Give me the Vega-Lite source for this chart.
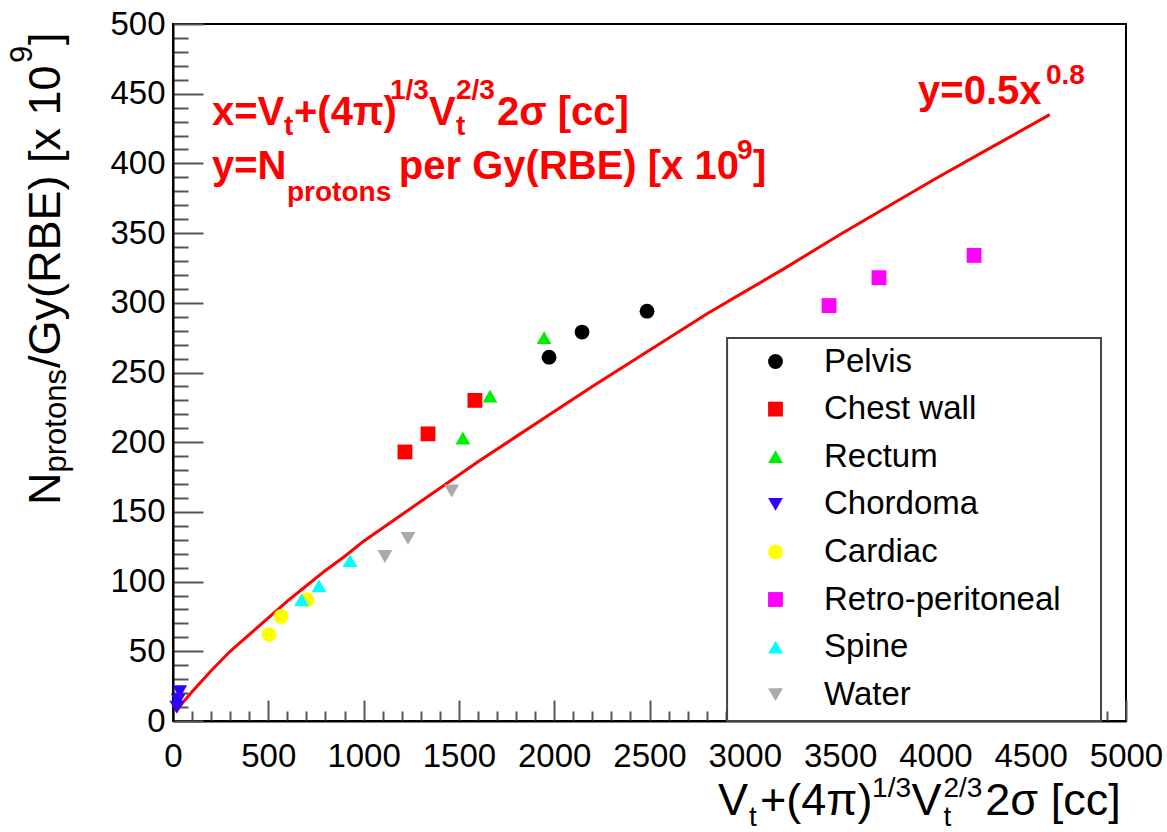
{
  "$schema": "https://vega.github.io/schema/vega-lite/v6.json",
  "width": 953,
  "height": 697,
  "autosize": {"type": "none"},
  "padding": {"left": 173, "top": 24, "right": 41, "bottom": 111},
  "background": "white",
  "config": {"view": {"stroke": "#000", "strokeWidth": 2}, "font": "Liberation Sans"},
  "datasets": {
    "points": [
      {"organ": "Pelvis", "x": 1973, "y": 261},
      {"organ": "Pelvis", "x": 2146, "y": 279},
      {"organ": "Pelvis", "x": 2487, "y": 294},
      {"organ": "Chest wall", "x": 1217, "y": 193},
      {"organ": "Chest wall", "x": 1338, "y": 206},
      {"organ": "Chest wall", "x": 1584, "y": 230},
      {"organ": "Rectum", "x": 1521, "y": 203},
      {"organ": "Rectum", "x": 1663, "y": 233},
      {"organ": "Rectum", "x": 1947, "y": 275},
      {"organ": "Chordoma", "x": 35, "y": 21},
      {"organ": "Chordoma", "x": 27, "y": 15},
      {"organ": "Chordoma", "x": 20, "y": 10},
      {"organ": "Cardiac", "x": 504, "y": 62},
      {"organ": "Cardiac", "x": 567, "y": 75},
      {"organ": "Cardiac", "x": 703, "y": 87},
      {"organ": "Retro-peritoneal", "x": 3442, "y": 298},
      {"organ": "Retro-peritoneal", "x": 3704, "y": 318},
      {"organ": "Retro-peritoneal", "x": 4203, "y": 334},
      {"organ": "Spine", "x": 675, "y": 87},
      {"organ": "Spine", "x": 766, "y": 97},
      {"organ": "Spine", "x": 929, "y": 115},
      {"organ": "Water", "x": 1112, "y": 118},
      {"organ": "Water", "x": 1233, "y": 131},
      {"organ": "Water", "x": 1462, "y": 165}
    ],
    "curve": [
      {"x": 15, "y": 6.5}, {"x": 50, "y": 13}, {"x": 100, "y": 21}, {"x": 200, "y": 36},
      {"x": 300, "y": 50}, {"x": 400, "y": 62}, {"x": 500, "y": 74}, {"x": 600, "y": 86},
      {"x": 700, "y": 97}, {"x": 800, "y": 108}, {"x": 900, "y": 118}, {"x": 1000, "y": 129},
      {"x": 1200, "y": 148}, {"x": 1400, "y": 167}, {"x": 1600, "y": 186}, {"x": 1800, "y": 204},
      {"x": 2000, "y": 222}, {"x": 2200, "y": 240}, {"x": 2500, "y": 266}, {"x": 2800, "y": 292},
      {"x": 3000, "y": 308}, {"x": 3200, "y": 324}, {"x": 3500, "y": 349}, {"x": 3800, "y": 373},
      {"x": 4000, "y": 389}, {"x": 4300, "y": 412}, {"x": 4600, "y": 435}
    ],
    "box": [{"x": 2907, "x2": 4869, "y": 0, "y2": 274.7}],
    "xtitle": [
      {"t": "V", "x": 2859, "y": -67.4},
      {"t": "+(4π)", "x": 3080, "y": -67.4},
      {"t": "V", "x": 3875, "y": -67.4},
      {"t": "2σ [cc]", "x": 4262, "y": -67.4}
    ],
    "xtitle_small": [
      {"t": "t", "x": 3022, "y": -75.3},
      {"t": "1/3", "x": 3668, "y": -54.5},
      {"t": "t", "x": 4042, "y": -75.3},
      {"t": "2/3", "x": 4042, "y": -54.5}
    ],
    "ytitle": [
      {"t": "N", "x": -592.9, "y": 155.0},
      {"t": "/Gy(RBE) [x 10", "x": -592.9, "y": 253.2},
      {"t": "]", "x": -592.9, "y": 484.9}
    ],
    "ytitle_small": [
      {"t": "protons", "x": -561.4, "y": 178.3},
      {"t": "9", "x": -739.8, "y": 472.0}
    ],
    "red": [
      {"t": "x=V", "x": 204.6, "y": 427.5},
      {"t": "+(4π)", "x": 634.8, "y": 427.5},
      {"t": "V", "x": 1343, "y": 427.5},
      {"t": "2σ [cc]", "x": 1700, "y": 427.5},
      {"t": "y=N", "x": 204.6, "y": 388.8},
      {"t": "per Gy(RBE) [x 10", "x": 1185, "y": 388.8},
      {"t": "]", "x": 3043, "y": 388.8},
      {"t": "y=0.5x", "x": 3909, "y": 442.6}
    ],
    "red_small": [
      {"t": "t", "x": 582.4, "y": 420.3},
      {"t": "1/3", "x": 1138.5, "y": 446.2},
      {"t": "t", "x": 1484.8, "y": 420.3},
      {"t": "2/3", "x": 1484.8, "y": 446.2},
      {"t": "protons", "x": 598.1, "y": 373},
      {"t": "9", "x": 2959, "y": 403.1},
      {"t": "0.8", "x": 4580, "y": 457}
    ]
  },
  "encoding": {
    "x": {
      "field": "x", "type": "quantitative",
      "scale": {"domain": [0, 5000], "nice": false, "zero": false},
      "axis": {
        "values": [0,100,200,300,400,500,600,700,800,900,1000,1100,1200,1300,1400,1500,1600,1700,1800,1900,2000,2100,2200,2300,2400,2500,2600,2700,2800,2900,3000,3100,3200,3300,3400,3500,3600,3700,3800,3900,4000,4100,4200,4300,4400,4500,4600,4700,4800,4900,5000],
        "labelExpr": "datum.value % 500 === 0 ? datum.label : ''",
        "format": "d",
        "tickSize": {"condition": {"test": "datum.value % 500 === 0", "value": -21}, "value": -10},
        "tickColor": "#555", "tickWidth": 2,
        "domainColor": "#000", "domainWidth": 2,
        "labelFont": "Liberation Sans", "labelFontSize": 33, "labelColor": "#000",
        "labelPadding": 40, "labelFlush": false, "labelOverlap": false,
        "title": null, "grid": false
      }
    },
    "y": {
      "field": "y", "type": "quantitative",
      "scale": {"domain": [0, 500], "nice": false, "zero": false},
      "axis": {
        "values": [0,10,20,30,40,50,60,70,80,90,100,110,120,130,140,150,160,170,180,190,200,210,220,230,240,250,260,270,280,290,300,310,320,330,340,350,360,370,380,390,400,410,420,430,440,450,460,470,480,490,500],
        "labelExpr": "datum.value % 50 === 0 ? datum.label : ''",
        "format": "d",
        "tickSize": {"condition": {"test": "datum.value % 50 === 0", "value": -30}, "value": -15},
        "tickColor": "#555", "tickWidth": 2,
        "domainColor": "#000", "domainWidth": 2,
        "labelFont": "Liberation Sans", "labelFontSize": 33, "labelColor": "#000",
        "labelPadding": 38, "labelFlush": false, "labelOverlap": false,
        "title": null, "grid": false
      }
    }
  },
  "layer": [
    {
      "data": {"name": "box"},
      "mark": {"type": "rect", "fill": "white", "stroke": "#444", "strokeWidth": 2},
      "encoding": {"x2": {"field": "x2"}, "y2": {"field": "y2"}}
    },
    {
      "data": {"name": "curve"},
      "mark": {"type": "line", "color": "#ff0000", "strokeWidth": 3},
      "encoding": {}
    },
    {
      "data": {"name": "points"},
      "mark": {"type": "point", "filled": true, "size": 220, "opacity": 1, "strokeWidth": 0},
      "encoding": {
        "color": {
          "field": "organ", "type": "nominal",
          "scale": {
            "domain": ["Pelvis", "Chest wall", "Rectum", "Chordoma", "Cardiac", "Retro-peritoneal", "Spine", "Water"],
            "range": ["#000000", "#ff0000", "#00ee00", "#3300ff", "#ffff00", "#ff00ff", "#00ffff", "#aaaaaa"]
          },
          "legend": {
            "orient": "none", "legendX": 586, "legendY": 321, "title": null,
            "labelFont": "Liberation Sans", "labelFontSize": 33, "labelColor": "#000", "labelLimit": 0,
            "symbolSize": 220, "symbolStrokeWidth": 0, "rowPadding": 13.6, "labelOffset": 32, "padding": 0
          }
        },
        "shape": {
          "field": "organ", "type": "nominal",
          "scale": {
            "domain": ["Pelvis", "Chest wall", "Rectum", "Chordoma", "Cardiac", "Retro-peritoneal", "Spine", "Water"],
            "range": ["circle", "square", "triangle-up", "triangle-down", "circle", "square", "triangle-up", "triangle-down"]
          },
          "legend": {
            "orient": "none", "legendX": 586, "legendY": 321, "title": null,
            "labelFont": "Liberation Sans", "labelFontSize": 33, "labelColor": "#000", "labelLimit": 0,
            "symbolSize": 220, "symbolStrokeWidth": 0, "rowPadding": 13.6, "labelOffset": 32, "padding": 0
          }
        }
      }
    },
    {
      "data": {"name": "xtitle"},
      "mark": {"type": "text", "fontSize": 45, "font": "Liberation Sans", "align": "left", "baseline": "alphabetic", "color": "#000"},
      "encoding": {"text": {"field": "t"}}
    },
    {
      "data": {"name": "xtitle_small"},
      "mark": {"type": "text", "fontSize": 28, "font": "Liberation Sans", "align": "left", "baseline": "alphabetic", "color": "#000"},
      "encoding": {"text": {"field": "t"}}
    },
    {
      "data": {"name": "ytitle"},
      "mark": {"type": "text", "fontSize": 45, "font": "Liberation Sans", "align": "left", "baseline": "alphabetic", "angle": 270, "color": "#000"},
      "encoding": {"text": {"field": "t"}}
    },
    {
      "data": {"name": "ytitle_small"},
      "mark": {"type": "text", "fontSize": 31, "font": "Liberation Sans", "align": "left", "baseline": "alphabetic", "angle": 270, "color": "#000"},
      "encoding": {"text": {"field": "t"}}
    },
    {
      "data": {"name": "red"},
      "mark": {"type": "text", "fontSize": 40, "fontWeight": "bold", "font": "Liberation Sans", "align": "left", "baseline": "alphabetic", "color": "#ff0000"},
      "encoding": {"text": {"field": "t"}}
    },
    {
      "data": {"name": "red_small"},
      "mark": {"type": "text", "fontSize": 28, "fontWeight": "bold", "font": "Liberation Sans", "align": "left", "baseline": "alphabetic", "color": "#ff0000"},
      "encoding": {"text": {"field": "t"}}
    }
  ]
}
